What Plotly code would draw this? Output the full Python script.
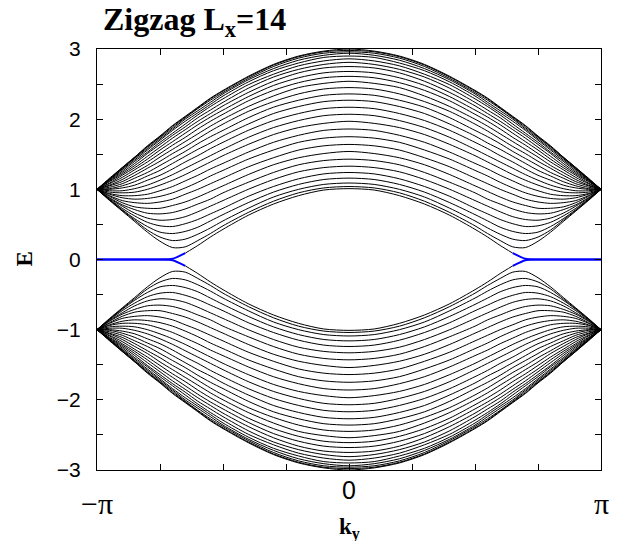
import numpy as np
import plotly.graph_objects as go

# k sample points (fractions of pi) for k >= 0; the picture is symmetric in k
k_frac = [0, 0.1, 0.2, 0.3, 0.4, 0.5, 0.55, 0.6, 0.65, 0.7, 0.75, 0.8, 0.85, 0.9, 0.95, 1.0]

# positive-energy bands (x100), lowest first; E<0 bands mirror them
bands_x100 = [
    [101, 99, 91, 79, 63, 43, 32, 20, 9, 1, 0, 0, 0, 0, 0, 0],
    [104, 102, 95, 83, 67, 48, 37, 27, 18, 17, 26, 39, 54, 69, 84, 100],
    [109, 107, 100, 89, 73, 55, 45, 36, 29, 27, 32, 42, 56, 70, 85, 100],
    [116, 114, 107, 96, 81, 64, 55, 46, 40, 37, 39, 47, 58, 71, 85, 100],
    [124, 122, 115, 104, 90, 73, 65, 57, 51, 47, 48, 53, 62, 73, 86, 100],
    [133, 131, 125, 114, 100, 84, 76, 68, 61, 57, 56, 59, 66, 76, 87, 100],
    [143, 141, 135, 124, 110, 95, 86, 79, 72, 67, 65, 66, 71, 78, 88, 100],
    [154, 151, 145, 135, 121, 105, 97, 89, 82, 77, 73, 73, 75, 81, 90, 100],
    [164, 162, 156, 145, 132, 116, 108, 100, 93, 86, 82, 80, 81, 84, 91, 100],
    [175, 173, 167, 156, 143, 127, 119, 110, 102, 95, 90, 87, 86, 88, 93, 100],
    [186, 184, 177, 167, 153, 137, 129, 120, 112, 104, 98, 93, 91, 91, 94, 100],
    [197, 194, 188, 178, 164, 148, 139, 130, 121, 113, 106, 100, 96, 95, 96, 100],
    [207, 205, 198, 188, 174, 157, 148, 139, 130, 121, 113, 106, 101, 98, 98, 100],
    [217, 215, 208, 198, 184, 167, 158, 148, 139, 129, 120, 113, 106, 102, 100, 100],
    [227, 225, 218, 208, 193, 176, 166, 157, 147, 137, 127, 119, 111, 105, 101, 100],
    [236, 234, 227, 217, 202, 184, 175, 165, 154, 144, 134, 124, 116, 108, 103, 100],
    [245, 243, 236, 225, 211, 193, 183, 172, 161, 151, 140, 130, 120, 111, 105, 100],
    [254, 251, 245, 233, 218, 200, 190, 179, 168, 157, 146, 134, 124, 114, 106, 100],
    [261, 259, 252, 241, 226, 207, 197, 186, 174, 163, 151, 139, 128, 117, 108, 100],
    [268, 266, 259, 248, 232, 213, 203, 192, 180, 168, 156, 143, 131, 120, 109, 100],
    [275, 273, 266, 254, 238, 219, 208, 197, 185, 173, 160, 147, 134, 122, 111, 100],
    [281, 278, 271, 260, 244, 224, 213, 202, 189, 177, 164, 151, 137, 124, 112, 100],
    [286, 283, 276, 264, 249, 229, 218, 206, 193, 180, 167, 153, 140, 126, 113, 100],
    [290, 288, 280, 269, 253, 233, 221, 209, 197, 184, 170, 156, 142, 128, 114, 100],
    [294, 291, 284, 272, 256, 236, 224, 212, 200, 186, 172, 158, 144, 129, 114, 100],
    [296, 294, 287, 275, 258, 238, 227, 215, 202, 188, 174, 160, 145, 130, 115, 100],
    [298, 296, 289, 277, 260, 240, 229, 216, 203, 190, 175, 161, 146, 131, 115, 100],
    [300, 297, 290, 278, 261, 241, 230, 217, 204, 191, 176, 162, 146, 131, 116, 100],
]

# edge-state part of the lowest band (drawn blue) starts at this k/pi sample
edge_start = 0.65

y_tick_vals = [-3, -2, -1, 0, 1, 2, 3]
y_tick_text = ["\u22123", "\u22122", "\u22121", "0", "1", "2", "3"]
x_tick_vals = [-np.pi, 0, np.pi]
x_tick_text = ["\u2212\u03c0", "0", "\u03c0"]

title_text = "<b>Zigzag L<sub>x</sub>=14</b>"
x_title = "<b>k<sub>y</sub></b>"
y_title = "<b>E</b>"

# ---- build full k range by mirroring ----
kf = np.array(k_frac)
k_full = np.concatenate([-kf[:0:-1], kf]) * np.pi


def mirror(vals):
    v = np.array(vals, dtype=float) / 100.0
    return np.concatenate([v[:0:-1], v])


bx, by = [], []
ex, ey = [], []
i_edge = k_frac.index(edge_start)
for bi, vals in enumerate(bands_x100):
    e = mirror(vals)
    for sgn in (1, -1):
        if bi == 0:
            n = len(k_frac)
            lo = n - 1 - i_edge
            hi = n - 1 + i_edge
            bx += list(k_full[lo:hi + 1]) + [None]
            by += list(sgn * e[lo:hi + 1]) + [None]
            ex += list(k_full[:lo + 1]) + [None] + list(k_full[hi:]) + [None]
            ey += list(sgn * e[:lo + 1]) + [None] + list(sgn * e[hi:]) + [None]
        else:
            bx += list(k_full) + [None]
            by += list(sgn * e) + [None]

fig = go.Figure()
fig.add_trace(go.Scatter(x=bx, y=by, mode="lines",
                         line=dict(color="black", width=1, shape="spline", smoothing=0.8),
                         hoverinfo="skip", showlegend=False))
fig.add_trace(go.Scatter(x=ex, y=ey, mode="lines",
                         line=dict(color="#0000ff", width=2, shape="spline", smoothing=0.6),
                         hoverinfo="skip", showlegend=False))

W, H = 623, 541
L, R, T, B = 97, 22, 49, 71
PW, PH = W - L - R, H - T - B

fig.update_layout(
    width=W, height=H,
    margin=dict(l=L, r=R, t=T, b=B),
    paper_bgcolor="white", plot_bgcolor="white",
    showlegend=False,
)
fig.update_xaxes(
    range=[-np.pi, np.pi], showgrid=False, zeroline=False,
    showline=True, linecolor="black", linewidth=1, mirror="ticks",
    tickmode="array", tickvals=x_tick_vals, showticklabels=False,
    ticks="inside", ticklen=6, tickcolor="black",
    minor=dict(tick0=0, dtick=np.pi / 4, ticks="inside", ticklen=6, tickcolor="black"),
)
fig.update_yaxes(
    range=[-3, 3], showgrid=False, zeroline=False,
    showline=True, linecolor="black", linewidth=1, mirror="ticks",
    tickmode="array", tickvals=y_tick_vals, ticktext=y_tick_text,
    ticks="inside", ticklen=6, tickcolor="black",
    tickfont=dict(family="Liberation Sans", size=21, color="black"),
    ticklabelstandoff=11,
    minor=dict(tick0=0, dtick=0.5, ticks="inside", ticklen=6, tickcolor="black"),
)

ann = []
# x tick labels
for v, t in zip(x_tick_vals, x_tick_text):
    if t == "0":
        ann.append(dict(x=v, y=(T + PH - 490) / PH, xref="x", yref="paper", text=t,
                        showarrow=False, xanchor="center", yanchor="middle",
                        font=dict(family="Liberation Sans", size=25, color="black")))
    else:
        ann.append(dict(x=v, y=(T + PH - 503) / PH, xref="x", yref="paper", text=t,
                        showarrow=False, xanchor="center", yanchor="middle",
                        font=dict(family="Liberation Serif", size=30, color="black")))
# title
ann.append(dict(x=(101 - L) / PW, y=(T + PH - 21) / PH, xref="paper", yref="paper",
                text=title_text, showarrow=False, xanchor="left", yanchor="middle",
                font=dict(family="Liberation Serif", size=32, color="black")))
# axis titles
ann.append(dict(x=0.5, y=(T + PH - 528) / PH, xref="paper", yref="paper",
                text=x_title, showarrow=False, xanchor="center", yanchor="middle",
                font=dict(family="Liberation Serif", size=23, color="black")))
ann.append(dict(x=(24 - L) / PW, y=0.5, xref="paper", yref="paper",
                text=y_title, showarrow=False, xanchor="center", yanchor="middle",
                textangle=-90,
                font=dict(family="Liberation Serif", size=23, color="black")))
fig.update_layout(annotations=ann)

fig.write_html("out.html", config={"displayModeBar": False},
               post_script="document.body.style.margin='0';document.body.style.overflow='hidden';")
